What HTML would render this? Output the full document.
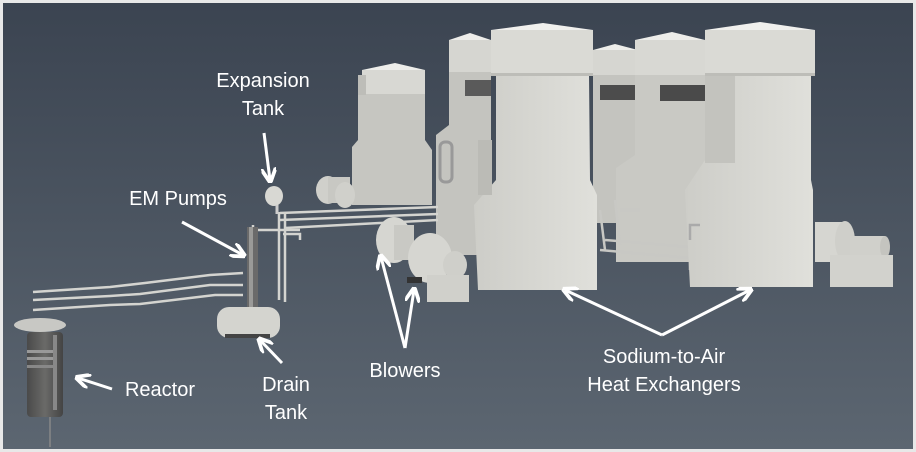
<!DOCTYPE html>
<html><head><meta charset="utf-8"><style>
html,body{margin:0;padding:0;background:#fff}
svg{display:block}
text{font-family:"Liberation Sans",sans-serif;fill:#fff;font-size:20px}
</style></head><body>
<svg width="916" height="452" viewBox="0 0 916 452" xmlns="http://www.w3.org/2000/svg">
<defs>
<linearGradient id="bg" x1="0" y1="0" x2="0" y2="1">
<stop offset="0" stop-color="#3b4451"/><stop offset="1" stop-color="#5c6671"/></linearGradient>
<linearGradient id="tw" x1="0" y1="0" x2="1" y2="0">
<stop offset="0" stop-color="#cdcdc8"/><stop offset="1" stop-color="#e0e0db"/></linearGradient>
<linearGradient id="rx" x1="0" y1="0" x2="1" y2="0">
<stop offset="0" stop-color="#4a4a4a"/><stop offset="0.5" stop-color="#6a6a68"/><stop offset="1" stop-color="#444"/></linearGradient>
<marker id="ah" viewBox="0 0 10 10" refX="8" refY="5" markerWidth="5" markerHeight="5" orient="auto-start-reverse">
<path d="M0,0 L10,5 L0,10" fill="none" stroke="#fff" stroke-width="2.5"/></marker>
</defs>
<rect width="916" height="452" fill="#e8e8e8"/>
<rect x="3" y="3" width="910" height="446" fill="url(#bg)"/>

<!-- back left group -->
<g>
<polygon points="352,147 358,140 358,92 425,92 425,140 432,150 432,205 352,205" fill="#c6c6c1"/>
<rect x="362" y="70" width="63" height="24" fill="#d8d8d3"/>
<polygon points="362,70 395,63 425,70" fill="#ededea"/>
<rect x="358" y="75" width="8" height="20" fill="#bdbdb8"/>
</g>
<!-- back HX1 -->
<g>
<polygon points="449,70 491,70 491,255 436,255 436,135 449,125" fill="#c4c4bf"/>
<rect x="449" y="40" width="42" height="32" fill="#d6d6d1"/>
<polygon points="449,40 470,33 491,40" fill="#ededea"/>
<rect x="465" y="80" width="26" height="16" fill="#5a5a5a"/>
<rect x="440" y="142" width="12" height="40" rx="5" fill="none" stroke="#999" stroke-width="3"/>
</g>
<!-- middle back -->
<g>
<rect x="593" y="73" width="45" height="150" fill="#c4c4bf"/>
<rect x="593" y="50" width="45" height="25" fill="#d6d6d1"/>
<polygon points="593,50 615,44 638,50" fill="#ededea"/>
<rect x="600" y="85" width="38" height="15" fill="#4c4c4c"/>
</g>
<!-- back HX2 -->
<g>
<polygon points="635,73 705,73 705,262 616,262 616,168 635,155" fill="#c9c9c4"/>
<rect x="635" y="40" width="70" height="35" fill="#d8d8d3"/>
<polygon points="635,40 672,32 705,40" fill="#ededea"/>
<rect x="660" y="85" width="45" height="16" fill="#4a4a4a"/>
</g>

<!-- piping between HX -->
<g stroke="#c8c8c4" stroke-width="2.5" fill="none">
<path d="M600,210 L605,250 M615,200 L620,245 M600,250 L690,258 M605,240 L690,247 M620,210 L640,210 M690,190 L690,270"/>
</g>

<!-- pipes left -->
<g stroke="#d4d4d0" stroke-width="2.5" fill="none">
<path d="M280,213 L438,207 M280,220 L438,214 M285,228 L438,220 M283,234 L300,234 L300,240"/>
<path d="M33,292 L110,287 L145,283 L210,275 L243,273"/>
<path d="M33,300 L110,296 L140,294 L210,285 L243,285"/>
<path d="M33,310 L110,305 L140,304 L215,295 L243,295"/>
<path d="M279,212 L279,300 M285,212 L285,302"/>
<path d="M253,225 L253,230 L300,230"/>
</g>
<!-- EM pump -->
<rect x="247" y="227" width="11" height="85" fill="#6a6a6a"/>
<rect x="249" y="227" width="4" height="85" fill="#9a9a98"/>
<!-- expansion tank -->
<ellipse cx="274" cy="196" rx="9" ry="10" fill="#d8d8d3"/>
<line x1="277" y1="205" x2="277" y2="214" stroke="#ccc" stroke-width="3"/>
<!-- drain tank -->
<rect x="217" y="307" width="63" height="31" rx="12" fill="#d4d4cf"/>
<rect x="225" y="334" width="45" height="4" fill="#444"/>
<!-- reactor -->
<ellipse cx="40" cy="325" rx="26" ry="7" fill="#c8c8c4"/>
<rect x="27" y="332" width="36" height="85" rx="4" fill="url(#rx)"/>
<rect x="27" y="350" width="26" height="3" fill="#999"/>
<rect x="27" y="357" width="26" height="3" fill="#999"/>
<rect x="27" y="365" width="26" height="3" fill="#888"/>
<line x1="55" y1="335" x2="55" y2="410" stroke="#888" stroke-width="4"/>
<line x1="50" y1="417" x2="50" y2="447" stroke="#888" stroke-width="1.5"/>

<!-- blowers left -->
<g>
<ellipse cx="328" cy="190" rx="12" ry="14" fill="#d0d0cb"/>
<rect x="328" y="177" width="22" height="26" fill="#c8c8c3"/>
<ellipse cx="345" cy="195" rx="10" ry="13" fill="#d0d0cb"/>
<ellipse cx="394" cy="240" rx="18" ry="23" fill="#d6d6d1"/>
<rect x="394" y="225" width="20" height="35" fill="#c9c9c4"/>
<ellipse cx="430" cy="258" rx="22" ry="25" fill="#d6d6d1"/>
<ellipse cx="455" cy="265" rx="12" ry="14" fill="#cfcfca"/>
<rect x="427" y="275" width="42" height="27" fill="#d0d0cb"/>
<rect x="407" y="277" width="15" height="6" fill="#333"/>
</g>
<!-- blower right -->
<g>
<rect x="815" y="222" width="30" height="40" fill="#d6d6d1"/>
<ellipse cx="845" cy="241" rx="10" ry="20" fill="#cfcfca"/>
<rect x="850" y="236" width="35" height="22" fill="#d0d0cb"/>
<ellipse cx="885" cy="247" rx="5" ry="11" fill="#c4c4bf"/>
<rect x="830" y="255" width="63" height="32" fill="#d2d2cd"/>
</g>

<!-- front HX1 -->
<g>
<polygon points="496,73 589,73 590,180 597,195 597,290 478,290 474,205 496,180" fill="url(#tw)"/>
<rect x="491" y="30" width="102" height="45" fill="#dadad5"/>
<polygon points="491,30 543,23 593,30" fill="#f0f0ed"/>
<rect x="491" y="73" width="102" height="3" fill="#bdbdb8"/>
<rect x="478" y="140" width="14" height="55" fill="#bbbbb6"/>
</g>
<!-- front HX2 -->
<g>
<polygon points="735,73 811,73 811,180 813,190 813,287 690,287 685,190 705,160 705,73" fill="url(#tw)"/>
<rect x="705" y="73" width="30" height="90" fill="#c3c3be"/>
<rect x="705" y="30" width="110" height="45" fill="#dadad5"/>
<polygon points="705,30 760,22 815,30" fill="#f0f0ed"/>
<rect x="705" y="73" width="110" height="3" fill="#bdbdb8"/>
<path d="M690,240 L690,225 L700,225" stroke="#aaa" stroke-width="2.5" fill="none"/>
</g>

<!-- labels -->
<text x="263" y="87" text-anchor="middle">Expansion</text>
<text x="263" y="115" text-anchor="middle">Tank</text>
<text x="178" y="205" text-anchor="middle">EM Pumps</text>
<text x="160" y="396" text-anchor="middle">Reactor</text>
<text x="286" y="391" text-anchor="middle">Drain</text>
<text x="286" y="419" text-anchor="middle">Tank</text>
<text x="405" y="377" text-anchor="middle">Blowers</text>
<text x="664" y="363" text-anchor="middle">Sodium-to-Air</text>
<text x="664" y="391" text-anchor="middle">Heat Exchangers</text>

<!-- arrows -->
<g stroke="#fff" stroke-width="3" fill="none" marker-end="url(#ah)">
<line x1="264" y1="133" x2="270" y2="180"/>
<line x1="182" y1="222" x2="243" y2="255"/>
<line x1="112" y1="389" x2="78" y2="378"/>
<line x1="282" y1="363" x2="260" y2="340"/>
<line x1="405" y1="348" x2="381" y2="257"/>
<line x1="405" y1="348" x2="414" y2="290"/>
<line x1="662" y1="335" x2="565" y2="290"/>
<line x1="662" y1="335" x2="750" y2="290"/>
</g>
</svg>
</body></html>
